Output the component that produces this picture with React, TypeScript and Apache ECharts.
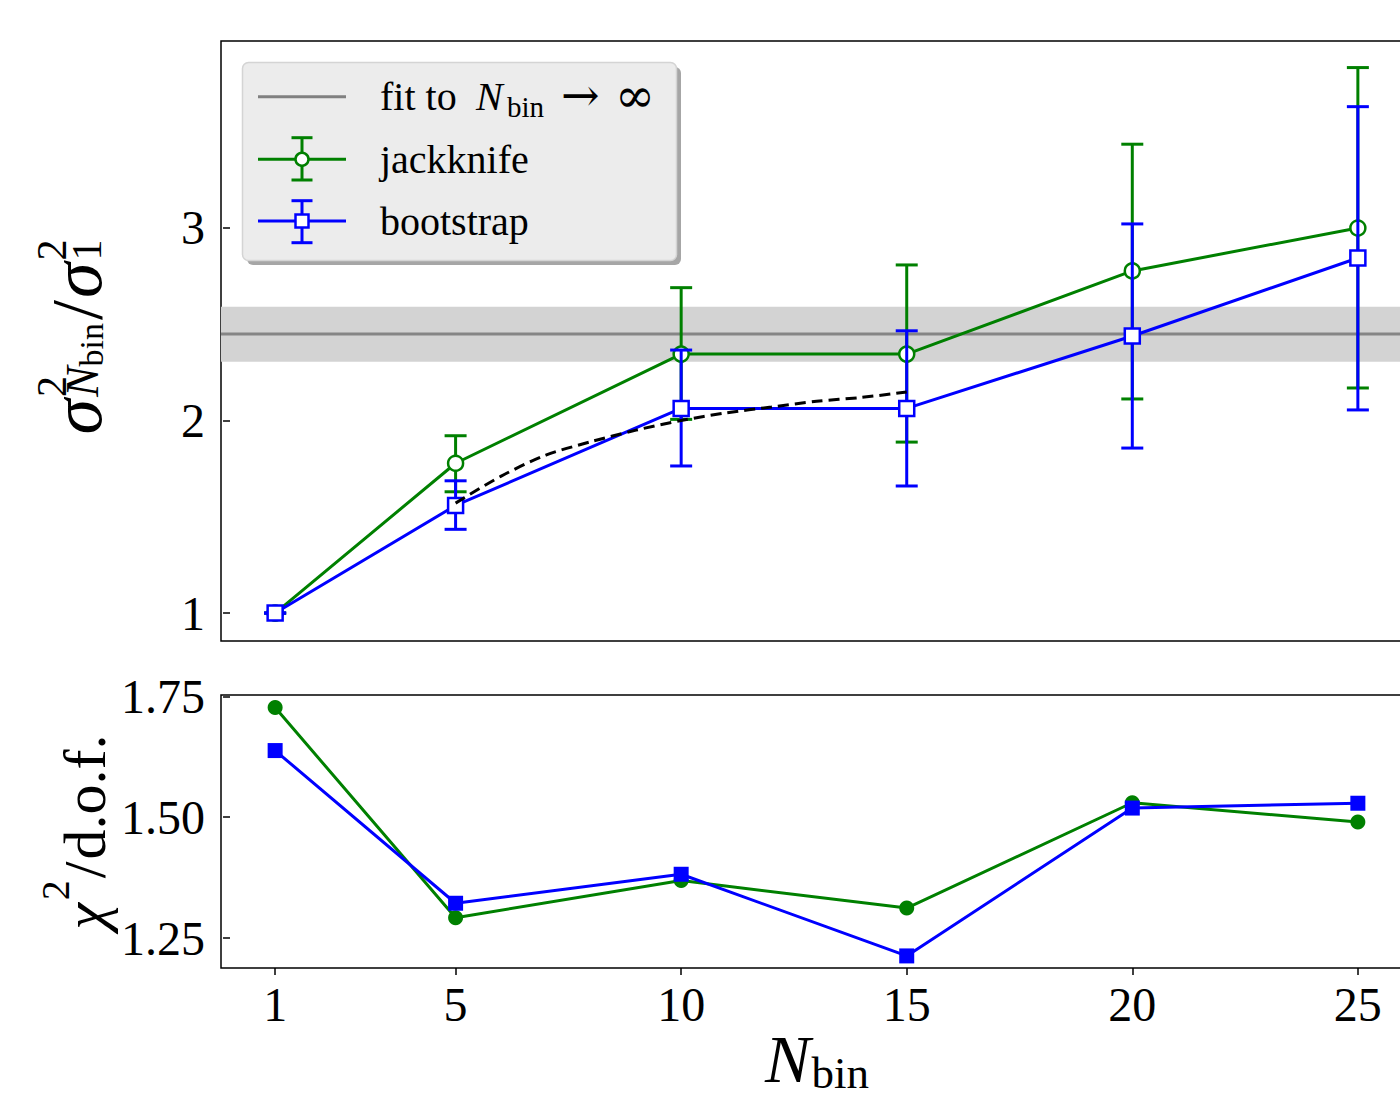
import React, { useEffect, useRef } from "react";
import * as echarts from "echarts";

// ---------- data ----------
const nbin = [1, 5, 10, 15, 20, 25];
const jackMean = [1.0, 1.778, 2.345, 2.345, 2.777, 3.0];
const jackLo = [1.0, 1.63, 2.006, 1.888, 2.112, 2.169];
const jackHi = [1.0, 1.921, 2.69, 2.808, 3.435, 3.833];
const bootMean = [1.0, 1.559, 2.063, 2.063, 2.439, 2.844];
const bootLo = [1.0, 1.435, 1.764, 1.66, 1.857, 2.055];
const bootHi = [1.0, 1.687, 2.366, 2.466, 3.021, 3.63];
const fitLo = 2.305;
const fitValue = 2.449;
const fitHi = 2.591;
const dashX = [5, 6, 7, 8, 9, 10, 11, 12, 13, 14, 15];
const dashY = [1.571, 1.71, 1.82, 1.89, 1.95, 2.0, 2.04, 2.07, 2.1, 2.12, 2.148];
const chiJack = [1.727, 1.292, 1.369, 1.312, 1.53, 1.49];
const chiBoot = [1.638, 1.322, 1.382, 1.213, 1.519, 1.529];
const xTicks = [1, 5, 10, 15, 20, 25];
const yTicksTop = [1, 2, 3];
const yTicksBottom = [1.25, 1.5, 1.75];

const FONT = '"Liberation Serif", "DejaVu Serif", serif';
const SYMFONT = '"DejaVu Serif", serif';
const GREEN = "#008000";
const BLUE = "#0000ff";
const C = 0.3375; // alphabetic baseline -> central offset (em)
const LW = 3;

let mctx: CanvasRenderingContext2D | null = null;
function measure(t: string, size: number, italic?: boolean) {
  if (!mctx) mctx = document.createElement("canvas").getContext("2d");
  mctx!.font = `${italic ? "italic " : ""}${size}px ${FONT}`;
  return mctx!.measureText(t).width;
}

type Piece = { t: string; size: number; italic?: boolean; dy?: number; stack?: boolean; gap?: number };

function mathText(pieces: Piece[], align: "center" | "left") {
  let prevStart = 0;
  let prevEnd = 0;
  let maxEnd = 0;
  const placed: { p: Piece; x: number }[] = [];
  pieces.forEach((p) => {
    const w = measure(p.t, p.size, p.italic);
    const start = p.stack ? prevStart : prevEnd + (p.gap || 0);
    placed.push({ p, x: start });
    prevStart = start;
    prevEnd = start + w;
    maxEnd = Math.max(maxEnd, prevEnd);
  });
  const off = align === "center" ? -maxEnd / 2 : 0;
  return placed.map(({ p, x }) => ({
    type: "text",
    x: x + off,
    y: (p.dy || 0) - C * p.size,
    silent: true,
    style: {
      text: p.t,
      fontSize: p.size,
      fontFamily: FONT,
      fontStyle: p.italic ? "italic" : "normal",
      fill: "#000",
      align: "left",
      textAlign: "left",
      verticalAlign: "middle",
      textVerticalAlign: "middle",
    },
  }));
}

function errRender(color: string) {
  return (params: any, api: any) => {
    const x = api.value(0);
    const lo = api.coord([x, api.value(1)]);
    const hi = api.coord([x, api.value(2)]);
    const cap = 11;
    const style = { stroke: color, lineWidth: LW };
    return {
      type: "group",
      children: [
        { type: "line", shape: { x1: lo[0], y1: lo[1], x2: hi[0], y2: hi[1] }, style },
        { type: "line", shape: { x1: lo[0] - cap, y1: lo[1], x2: lo[0] + cap, y2: lo[1] }, style },
        { type: "line", shape: { x1: hi[0] - cap, y1: hi[1], x2: hi[0] + cap, y2: hi[1] }, style },
      ],
    };
  };
}

function legendGraphics() {
  const els: any[] = [];
  els.push({ type: "rect", shape: { x: 247, y: 67, width: 434, height: 198, r: 6 }, style: { fill: "#a6a6a6" }, silent: true });
  els.push({ type: "rect", shape: { x: 242.5, y: 62.5, width: 434, height: 198, r: 6 }, style: { fill: "#ececec", stroke: "#d4d4d4", lineWidth: 1.5 }, silent: true });
  els.push({ type: "line", shape: { x1: 258, y1: 96.7, x2: 346, y2: 96.7 }, style: { stroke: "#808080", lineWidth: LW }, silent: true });
  const jy = 159.3;
  const sj = { stroke: GREEN, lineWidth: LW };
  els.push({ type: "line", shape: { x1: 258, y1: jy, x2: 346, y2: jy }, style: sj, silent: true });
  els.push({ type: "line", shape: { x1: 302, y1: 137.7, x2: 302, y2: 180 }, style: sj, silent: true });
  els.push({ type: "line", shape: { x1: 291.5, y1: 137.7, x2: 312.5, y2: 137.7 }, style: sj, silent: true });
  els.push({ type: "line", shape: { x1: 291.5, y1: 180, x2: 312.5, y2: 180 }, style: sj, silent: true });
  els.push({ type: "circle", shape: { cx: 302, cy: jy, r: 6.5 }, style: { fill: "#fff", stroke: GREEN, lineWidth: 2.5 }, silent: true });
  const by = 221;
  const sb = { stroke: BLUE, lineWidth: LW };
  els.push({ type: "line", shape: { x1: 258, y1: by, x2: 346, y2: by }, style: sb, silent: true });
  els.push({ type: "line", shape: { x1: 302, y1: 200.7, x2: 302, y2: 242.7 }, style: sb, silent: true });
  els.push({ type: "line", shape: { x1: 291.5, y1: 200.7, x2: 312.5, y2: 200.7 }, style: sb, silent: true });
  els.push({ type: "line", shape: { x1: 291.5, y1: 242.7, x2: 312.5, y2: 242.7 }, style: sb, silent: true });
  els.push({ type: "rect", shape: { x: 295.5, y: by - 6.5, width: 13, height: 13 }, style: { fill: "#fff", stroke: BLUE, lineWidth: 2.5 }, silent: true });

  const LS = 40;
  const txt = (t: string, x: number, base: number, size: number, italic = false, fam = FONT) => ({
    type: "text",
    x,
    y: base - C * size,
    silent: true,
    style: {
      text: t, fontSize: size, fontFamily: fam, fontStyle: italic ? "italic" : "normal", fill: "#000",
      align: "left", textAlign: "left", verticalAlign: "middle", textVerticalAlign: "middle",
    },
  });
  els.push(txt("fit to", 380, 110, LS));
  els.push(txt("N", 476, 110, LS, true));
  els.push(txt("bin", 507, 117, 29));
  els.push(txt("→", 561, 111, 46, false, SYMFONT));
  els.push(txt("∞", 615, 111, 48, false, SYMFONT));
  els.push(txt("jackknife", 380, 173, LS));
  els.push(txt("bootstrap", 380, 235, LS));
  return els;
}

function axisLabelGraphics() {
  const S1 = 72;
  const topLabel = {
    type: "group",
    x: 101,
    y: 337,
    rotation: Math.PI / 2,
    silent: true,
    children: mathText(
      [
        { t: "σ", size: S1, italic: true },
        { t: "2", size: 42, dy: -35, gap: 2 },
        { t: "N", size: 46, italic: true, dy: -3, stack: true },
        { t: "bin", size: 34, dy: 2 },
        { t: "/", size: S1, gap: 3 },
        { t: "σ", size: S1, italic: true, gap: 2 },
        { t: "2", size: 42, dy: -35, gap: 2 },
        { t: "1", size: 42, dy: 0, stack: true },
      ],
      "center"
    ),
  };
  const S2 = 60;
  const bottomLabel = {
    type: "group",
    x: 105,
    y: 832,
    rotation: Math.PI / 2,
    silent: true,
    children: mathText(
      [
        { t: "χ", size: S2, italic: true },
        { t: "2", size: 40, dy: -36, gap: 3 },
        { t: "/", size: S2, gap: 2 },
        { t: "d.o.f.", size: S2, gap: 2 },
      ],
      "center"
    ),
  };
  const xLabel = {
    type: "group",
    x: 817,
    y: 1082,
    silent: true,
    children: mathText(
      [
        { t: "N", size: 68, italic: true },
        { t: "bin", size: 45, dy: 6, gap: 1 },
      ],
      "center"
    ),
  };
  return [topLabel, bottomLabel, xLabel];
}

export default function App() {
  const ref = useRef<HTMLDivElement>(null);
  useEffect(() => {
    if (!ref.current) return;
    const chart = echarts.init(ref.current, null, { renderer: "svg" });
    const tickLabel = { fontSize: 48, fontFamily: FONT, color: "#000" };
    const tickStyle = { color: "#000", width: 1.5 };
    const gridBase = { left: 221, width: 1191, show: true, borderColor: "#000", borderWidth: 1.5, backgroundColor: "transparent", containLabel: false, outerBoundsMode: "none" };
    const option: any = {
      animation: false,
      backgroundColor: "#ffffff",
      grid: [
        { ...gridBase, top: 41, height: 600 },
        { ...gridBase, top: 695, height: 273 },
      ],
      xAxis: [
        {
          gridIndex: 0, type: "value", min: -0.2, max: 26.2,
          axisLine: { show: false }, axisTick: { show: false }, axisLabel: { show: false }, splitLine: { show: false },
        },
        {
          gridIndex: 1, type: "value", min: -0.2, max: 26.2,
          axisLine: { show: false },
          axisTick: { show: true, inside: false, length: 7, lineStyle: tickStyle, customValues: xTicks },
          axisLabel: { ...tickLabel, customValues: xTicks, margin: 12 },
          splitLine: { show: false },
        },
      ],
      yAxis: [
        {
          gridIndex: 0, type: "value", min: 0.855, max: 3.971,
          axisLine: { show: false },
          axisTick: { show: true, inside: false, length: 7, lineStyle: tickStyle, customValues: yTicksTop },
          axisLabel: { ...tickLabel, customValues: yTicksTop, margin: 16 },
          splitLine: { show: false },
        },
        {
          gridIndex: 1, type: "value", min: 1.188, max: 1.753,
          axisLine: { show: false },
          axisTick: { show: true, inside: false, length: 7, lineStyle: tickStyle, customValues: yTicksBottom },
          axisLabel: { ...tickLabel, customValues: yTicksBottom, margin: 16, formatter: (v: number) => v.toFixed(2) },
          splitLine: { show: false },
        },
      ],
      series: [
        {
          type: "custom", xAxisIndex: 0, yAxisIndex: 0, z: 1, silent: true,
          data: [[0, fitLo, fitValue, fitHi]],
          encode: { x: 0, y: [1, 2, 3] },
          renderItem: (params: any, api: any) => {
            const cs = params.coordSys;
            const yLo = api.coord([0, api.value(1)])[1];
            const yMid = api.coord([0, api.value(2)])[1];
            const yHi = api.coord([0, api.value(3)])[1];
            return {
              type: "group",
              children: [
                { type: "rect", shape: { x: cs.x, y: yHi, width: cs.width, height: yLo - yHi }, style: { fill: "#d3d3d3" } },
                { type: "line", shape: { x1: cs.x, y1: yMid, x2: cs.x + cs.width, y2: yMid }, style: { stroke: "#858585", lineWidth: LW } },
              ],
            };
          },
        },
        {
          type: "custom", xAxisIndex: 0, yAxisIndex: 0, z: 2, silent: true,
          data: nbin.map((x, i) => [x, jackLo[i], jackHi[i]]),
          encode: { x: 0, y: [1, 2] },
          renderItem: errRender(GREEN),
        },
        {
          type: "line", xAxisIndex: 0, yAxisIndex: 0, z: 3, silent: true,
          data: nbin.map((x, i) => [x, jackMean[i]]),
          symbol: "circle", symbolSize: 15, showAllSymbol: true,
          lineStyle: { color: GREEN, width: LW },
          itemStyle: { color: "#fff", borderColor: GREEN, borderWidth: 2.5 },
          emphasis: { disabled: true },
        },
        {
          type: "custom", xAxisIndex: 0, yAxisIndex: 0, z: 4, silent: true,
          data: nbin.map((x, i) => [x, bootLo[i], bootHi[i]]),
          encode: { x: 0, y: [1, 2] },
          renderItem: errRender(BLUE),
        },
        {
          type: "line", xAxisIndex: 0, yAxisIndex: 0, z: 5, silent: true,
          data: nbin.map((x, i) => [x, bootMean[i]]),
          symbol: "rect", symbolSize: 15, showAllSymbol: true,
          lineStyle: { color: BLUE, width: LW },
          itemStyle: { color: "#fff", borderColor: BLUE, borderWidth: 2.5 },
          emphasis: { disabled: true },
        },
        {
          type: "line", xAxisIndex: 0, yAxisIndex: 0, z: 6, silent: true,
          data: dashX.map((x, i) => [x, dashY[i]]),
          symbol: "none", smooth: 0.3,
          lineStyle: { color: "#000", width: LW, type: [11, 6] },
          emphasis: { disabled: true },
        },
        {
          type: "line", xAxisIndex: 1, yAxisIndex: 1, z: 3, silent: true,
          data: nbin.map((x, i) => [x, chiJack[i]]),
          symbol: "circle", symbolSize: 15, showAllSymbol: true,
          lineStyle: { color: GREEN, width: LW },
          itemStyle: { color: GREEN },
          emphasis: { disabled: true },
        },
        {
          type: "line", xAxisIndex: 1, yAxisIndex: 1, z: 4, silent: true,
          data: nbin.map((x, i) => [x, chiBoot[i]]),
          symbol: "rect", symbolSize: 15, showAllSymbol: true,
          lineStyle: { color: BLUE, width: LW },
          itemStyle: { color: BLUE },
          emphasis: { disabled: true },
        },
      ],
      graphic: [...legendGraphics(), ...axisLabelGraphics()],
    };
    chart.setOption(option);
    return () => chart.dispose();
  }, []);
  return (
    <div
      ref={ref}
      style={{ position: "fixed", left: 0, top: 0, width: 1400, height: 1098, background: "#fff" }}
    />
  );
}
